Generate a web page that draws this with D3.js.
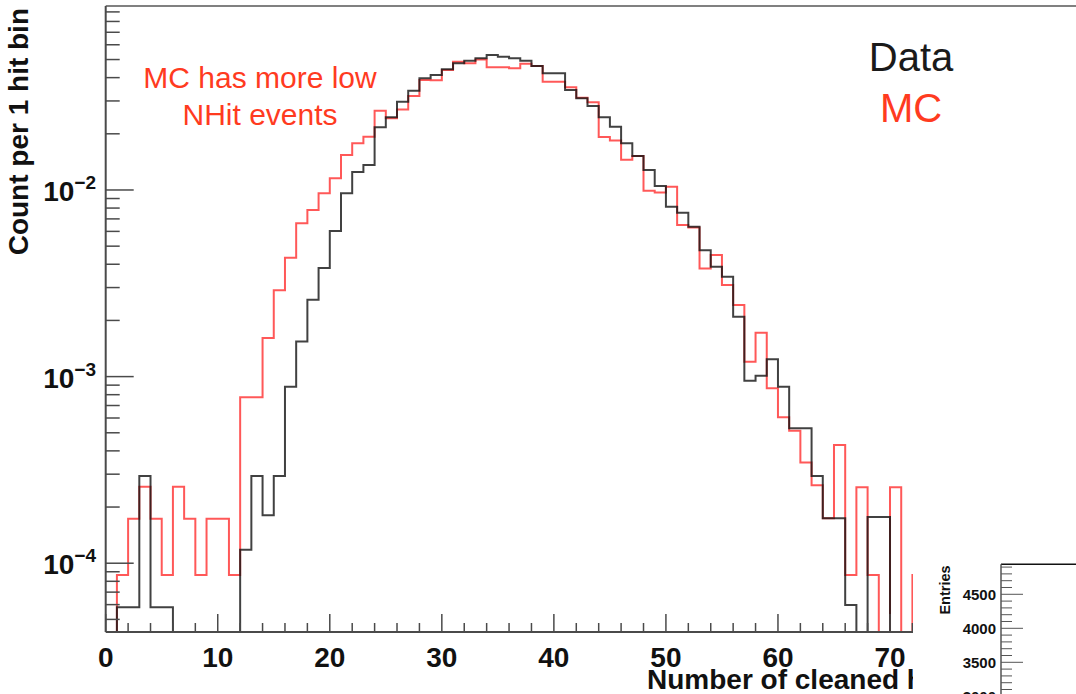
<!DOCTYPE html>
<html>
<head>
<meta charset="utf-8">
<script src="https://cdn.jsdelivr.net/npm/d3@7"></script>
<style>
  body { margin: 0; background: #fff; }
  svg { display: block; }
  text { font-family: 'Liberation Sans', Arial, Helvetica, sans-serif; }
</style>
</head>
<body>
<svg id="chart" width="1076" height="694"></svg>
<script>
// one bin per hit, bin i covers [i, i+1)
const binStart = 0;

// Data (black), normalised count per bin, bins 0..72
const dataCounts = [
  0, 5.8e-5, 5.8e-5, 2.93e-4, 5.8e-5, 5.8e-5, 0, 0, 0, 0,
  0, 0, 1.18e-4, 2.93e-4, 1.81e-4, 2.93e-4, 8.83e-4, 1.54e-3, 2.58e-3, 3.82e-3,
  6.03e-3, 9.6e-3, 1.25e-2, 1.36e-2, 2.17e-2, 2.45e-2, 2.97e-2, 3.40e-2, 3.97e-2, 4.13e-2,
  4.43e-2, 4.78e-2, 4.93e-2, 5.08e-2, 5.29e-2, 5.18e-2, 5.08e-2, 4.93e-2, 4.62e-2, 4.22e-2,
  4.22e-2, 3.43e-2, 3.10e-2, 2.82e-2, 2.45e-2, 2.18e-2, 1.78e-2, 1.52e-2, 1.28e-2, 1.05e-2,
  8.14e-3, 7.56e-3, 6.36e-3, 4.76e-3, 3.88e-3, 3.43e-3, 2.09e-3, 9.5e-4, 1.01e-3, 1.24e-3,
  8.83e-4, 5.28e-4, 5.28e-4, 2.93e-4, 1.74e-4, 1.74e-4, 5.97e-5, 0, 1.77e-4, 1.77e-4,
  0, 0, 0
];

// MC (red), bins 0..72
const mcCounts = [
  0, 8.65e-5, 1.73e-4, 2.57e-4, 1.73e-4, 8.65e-5, 2.57e-4, 1.73e-4, 8.65e-5, 1.73e-4,
  1.73e-4, 8.65e-5, 7.74e-4, 7.74e-4, 1.61e-3, 2.9e-3, 4.33e-3, 6.64e-3, 7.81e-3, 9.6e-3,
  1.155e-2, 1.54e-2, 1.78e-2, 1.93e-2, 2.66e-2, 2.42e-2, 2.70e-2, 3.19e-2, 3.89e-2, 3.87e-2,
  4.40e-2, 4.87e-2, 4.78e-2, 5.01e-2, 4.55e-2, 4.55e-2, 4.49e-2, 4.75e-2, 4.62e-2, 3.80e-2,
  3.80e-2, 3.55e-2, 3.12e-2, 2.95e-2, 1.92e-2, 1.84e-2, 1.45e-2, 1.52e-2, 9.9e-3, 9.7e-3,
  1.04e-2, 6.49e-3, 6.3e-3, 3.80e-3, 4.49e-3, 3.10e-3, 2.42e-3, 1.20e-3, 1.72e-3, 8.65e-4,
  6.05e-4, 5.13e-4, 3.46e-4, 2.62e-4, 1.74e-4, 4.30e-4, 8.65e-5, 2.55e-4, 8.65e-5, 0,
  2.55e-4, 0, 8.65e-5
];

const xTicks = [0, 10, 20, 30, 40, 50, 60, 70];
const yDecades = [-4, -3, -2];
const insetTicks = [3000, 3500, 4000, 4500];

const xTitle = 'Number of cleaned hits';
const yTitle = 'Count per 1 hit bin';
const note = ['MC has more low', 'NHit events'];
const legendLabels = ['Data', 'MC'];

const svg = d3.select('#chart');
const W = 1076, H = 694;
const frame = { left: 105.7, top: 6, bottom: 632 };
const coverX = 913; // pasted inset covers the bottom right corner
const red = '#ff3b1f';

const x = d3.scaleLinear().domain([0, 86.6]).range([frame.left, W]);
const yMin = 4.28e-5, yMax = 0.0968;
const y = d3.scaleLog().domain([yMin, yMax]).range([frame.bottom, frame.top]);

svg.append('defs').append('clipPath').attr('id', 'plotClip')
  .append('rect')
  .attr('x', frame.left).attr('y', frame.top)
  .attr('width', W - frame.left).attr('height', frame.bottom - frame.top);

// step outline like ROOT draws it
function stepPoints(vals) {
  const pts = [[x(binStart), frame.bottom]];
  vals.forEach((v, i) => {
    const yy = v > yMin ? y(v) : frame.bottom;
    pts.push([x(binStart + i), yy], [x(binStart + i + 1), yy]);
  });
  pts.push([x(binStart + vals.length), frame.bottom]);
  return pts;
}
const line = d3.line();

const plot = svg.append('g').attr('clip-path', 'url(#plotClip)');
plot.append('path')
  .attr('d', line(stepPoints(mcCounts)))
  .attr('fill', 'none')
  .attr('stroke', '#ff2020')
  .attr('stroke-opacity', 0.75)
  .attr('stroke-width', 2);
plot.append('path')
  .attr('d', line(stepPoints(dataCounts)))
  .attr('fill', 'none')
  .attr('stroke', '#111')
  .attr('stroke-opacity', 0.8)
  .attr('stroke-width', 2);

// frame
const axisCol = '#4a4a4a';
svg.append('line')
  .attr('x1', frame.left).attr('x2', W)
  .attr('y1', frame.top).attr('y2', frame.top)
  .attr('stroke', '#808080').attr('stroke-width', 2);
svg.append('line')
  .attr('x1', frame.left).attr('x2', frame.left)
  .attr('y1', frame.top).attr('y2', frame.bottom)
  .attr('stroke', axisCol).attr('stroke-width', 2);
svg.append('line')
  .attr('x1', frame.left).attr('x2', W)
  .attr('y1', frame.bottom).attr('y2', frame.bottom)
  .attr('stroke', axisCol).attr('stroke-width', 2);

// x ticks, minor every 2 hits
const xMinor = d3.range(0, 87, 2);
svg.append('g').selectAll('line')
  .data(xMinor)
  .enter()
  .append('line')
  .attr('x1', d => x(d)).attr('x2', d => x(d))
  .attr('y1', frame.bottom)
  .attr('y2', d => frame.bottom - (d % 10 === 0 ? 18 : 9))
  .attr('stroke', axisCol).attr('stroke-width', 1.5);

svg.append('g').selectAll('text')
  .data(xTicks)
  .enter()
  .append('text')
  .attr('x', d => x(d))
  .attr('y', 667)
  .attr('text-anchor', 'middle')
  .attr('font-size', 28)
  .attr('font-weight', 'bold')
  .attr('fill', '#111')
  .text(d => d);

// y ticks: decades plus 2..9 in each decade
const yMinor = [];
for (let e = -5; e <= -1; e++) {
  for (let m = 1; m <= 9; m++) {
    const v = m * Math.pow(10, e);
    if (v >= yMin && v <= yMax) yMinor.push({ v, major: m === 1 });
  }
}
svg.append('g').selectAll('line')
  .data(yMinor)
  .enter()
  .append('line')
  .attr('x1', frame.left)
  .attr('x2', d => frame.left + (d.major ? 28 : 14))
  .attr('y1', d => y(d.v)).attr('y2', d => y(d.v))
  .attr('stroke', axisCol).attr('stroke-width', 1.5);

const yLab = svg.append('g').selectAll('text')
  .data(yDecades)
  .enter()
  .append('text')
  .attr('x', 96)
  .attr('y', d => y(Math.pow(10, d)) + 11)
  .attr('text-anchor', 'end')
  .attr('font-size', 28)
  .attr('font-weight', 'bold')
  .attr('fill', '#111');
yLab.append('tspan').text('10');
yLab.append('tspan')
  .attr('dy', -12)
  .attr('font-size', 19)
  .text(d => '\u2212' + Math.abs(d));

// axis titles
svg.append('text')
  .attr('transform', 'translate(28,8) rotate(-90)')
  .attr('text-anchor', 'end')
  .attr('font-size', 28)
  .attr('font-weight', 'bold')
  .attr('fill', '#111')
  .text(yTitle);

svg.append('defs').append('clipPath').attr('id', 'titleClip')
  .append('rect').attr('x', 0).attr('y', 0).attr('width', coverX).attr('height', H);
svg.append('text')
  .attr('clip-path', 'url(#titleClip)')
  .attr('x', 647)
  .attr('y', 689)
  .attr('font-size', 28)
  .attr('font-weight', 'bold')
  .attr('fill', '#111')
  .text(xTitle);

// note and legend text
svg.append('g').selectAll('text')
  .data(note)
  .enter()
  .append('text')
  .attr('x', 260)
  .attr('y', (d, i) => 88 + i * 37)
  .attr('text-anchor', 'middle')
  .attr('font-size', 30)
  .attr('fill', red)
  .text(d => d);

svg.append('g').selectAll('text')
  .data(legendLabels)
  .enter()
  .append('text')
  .attr('x', 911)
  .attr('y', (d, i) => 71 + i * 51)
  .attr('text-anchor', 'middle')
  .attr('font-size', 40)
  .attr('fill', (d, i) => i === 0 ? '#1a1a1a' : red)
  .text(d => d);

// pasted inset of another plot, bottom right
const inset = svg.append('g');
inset.append('rect')
  .attr('x', coverX).attr('y', 548)
  .attr('width', W - coverX).attr('height', H - 548)
  .attr('fill', '#fff');

const iy = d3.scaleLinear().domain([3034, 4941]).range([694, 564.3]);
const iLeft = 1001;
inset.append('line')
  .attr('x1', iLeft).attr('x2', W)
  .attr('y1', iy(4941)).attr('y2', iy(4941))
  .attr('stroke', '#111').attr('stroke-width', 1.5);
inset.append('line')
  .attr('x1', iLeft).attr('x2', iLeft)
  .attr('y1', iy(4941)).attr('y2', H)
  .attr('stroke', '#555').attr('stroke-width', 1.5);

inset.selectAll('.itick')
  .data(d3.range(3100, 4950, 100))
  .enter()
  .append('line')
  .attr('x1', iLeft)
  .attr('x2', d => iLeft + (d % 500 === 0 ? 22 : 11))
  .attr('y1', d => iy(d)).attr('y2', d => iy(d))
  .attr('stroke', '#555').attr('stroke-width', 1);

inset.selectAll('.ilab')
  .data(insetTicks)
  .enter()
  .append('text')
  .attr('x', 996)
  .attr('y', d => iy(d) + 6)
  .attr('text-anchor', 'end')
  .attr('font-size', 15)
  .attr('font-weight', 'bold')
  .attr('fill', '#111')
  .text(d => d);

inset.append('text')
  .attr('transform', 'translate(950,590) rotate(-90)')
  .attr('text-anchor', 'middle')
  .attr('font-size', 14.5)
  .attr('font-weight', 'bold')
  .attr('fill', '#111')
  .text('Entries');
</script>
</body>
</html>
